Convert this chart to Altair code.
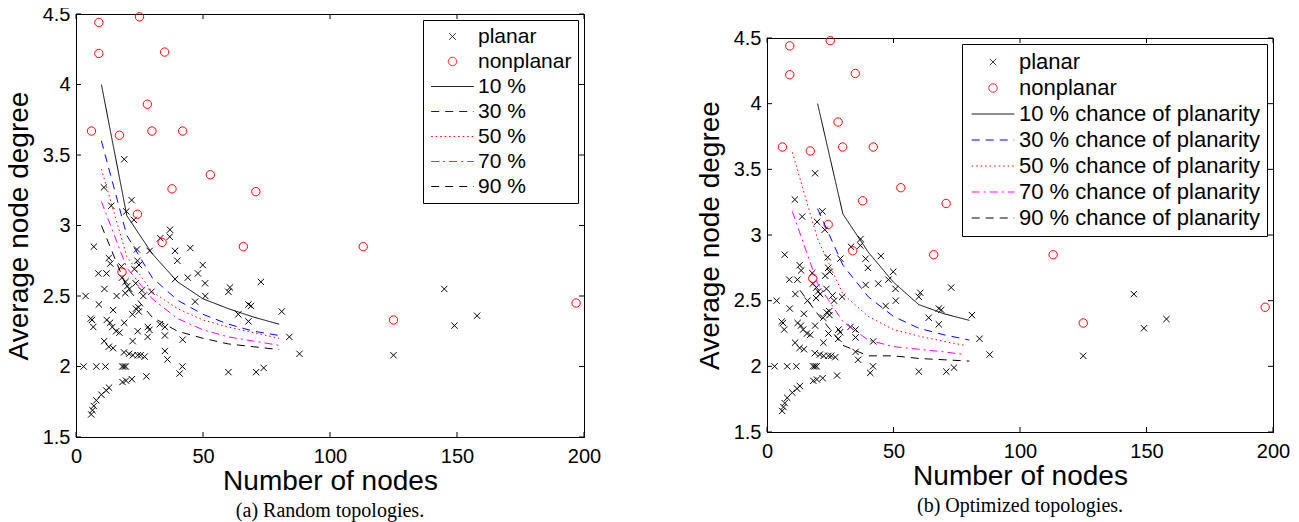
import altair as alt
import pandas as pd

# ---------------- data ----------------
planar_x = [19.0, 11.0, 21.9, 13.9, 19.8, 22.8, 37.0, 36.9, 33.2, 7.0, 24.0, 29.0, 39.0, 45.0,
            12.9, 24.2, 39.9, 13.5, 17.9, 24.8, 8.8, 12.0, 23.0, 49.9, 48.0, 44.0, 39.0, 50.8,
            11.2, 19.5, 20.2, 21.0, 23.5, 18.1, 3.8, 16.0, 19.4, 26.5, 25.9, 29.7, 50.9, 46.9,
            9.0, 14.6, 24.6, 23.6, 24.7, 22.2, 5.8, 6.3, 6.8, 12.1, 13.4, 14.3, 15.8, 17.1, 19.0,
            24.3, 28.3, 28.9, 28.2, 33.0, 35.0, 35.0, 11.1, 22.3, 42.0, 12.9, 14.6, 18.9, 20.9,
            22.4, 24.3, 25.4, 27.0, 35.0, 36.0, 3.0, 8.0, 11.6, 18.2, 18.9, 19.6, 41.9, 40.8,
            27.7, 18.3, 19.7, 22.0, 13.0, 11.9, 10.0, 8.0, 7.0, 6.0, 6.5, 72.8, 60.6, 60.0, 67.9,
            68.9, 63.9, 81.0, 67.9, 84.0, 88.0, 60.0, 70.9, 73.9, 145.0, 149.0, 157.9, 125.0]
planar_y = [3.47, 3.27, 3.18, 3.14, 3.10, 3.04, 2.97, 2.92, 2.91, 2.85, 2.83, 2.82, 2.82, 2.84,
            2.77, 2.75, 2.75, 2.73, 2.71, 2.72, 2.66, 2.66, 2.69, 2.72, 2.66, 2.63, 2.62, 2.59,
            2.55, 2.60, 2.57, 2.55, 2.59, 2.63, 2.50, 2.50, 2.52, 2.50, 2.54, 2.53, 2.50, 2.46,
            2.44, 2.40, 2.42, 2.41, 2.39, 2.37, 2.34, 2.33, 2.28, 2.33, 2.31, 2.28, 2.25, 2.24, 2.31,
            2.25, 2.28, 2.26, 2.21, 2.30, 2.28, 2.22, 2.18, 2.18, 2.19, 2.14, 2.13, 2.10, 2.09,
            2.08, 2.08, 2.08, 2.07, 2.11, 2.05, 2.00, 2.00, 2.00, 2.00, 2.00, 2.00, 2.00, 1.95,
            1.93, 1.89, 1.90, 1.91, 1.85, 1.83, 1.80, 1.76, 1.72, 1.66, 1.69, 2.60, 2.56, 2.53, 2.44,
            2.43, 2.37, 2.39, 2.32, 2.21, 2.09, 1.96, 1.96, 1.99, 2.55, 2.29, 2.36, 2.08]

nonplanar_x = [9.0, 25.0, 9.0, 34.9, 28.1, 6.1, 17.1, 29.9, 42.0, 52.9, 37.8, 70.8, 24.2,
               33.9, 65.9, 113.1, 18.1, 125.0, 196.9]
nonplanar_y = [4.44, 4.48, 4.22, 4.23, 3.86, 3.67, 3.64, 3.67, 3.67, 3.36, 3.26, 3.24, 3.08,
               2.88, 2.85, 2.85, 2.67, 2.33, 2.45]

# curves, panel (a) random topologies
rand_x = [10, 20, 30, 40, 50, 60, 70, 80]
rand_10 = [4.00, 3.07, 2.80, 2.60, 2.48, 2.41, 2.35, 2.30]
rand_30 = [3.60, 2.93, 2.63, 2.47, 2.37, 2.30, 2.25, 2.22]
rand_50 = [3.40, 2.78, 2.53, 2.41, 2.33, 2.28, 2.24, 2.20]
rand_70 = [3.17, 2.70, 2.48, 2.34, 2.26, 2.21, 2.18, 2.15]
rand_90 = [3.00, 2.56, 2.35, 2.25, 2.20, 2.16, 2.14, 2.12]

# curves, panel (b) optimized topologies
opt_10_x = [20, 30, 40, 50, 60, 70, 80]
opt_10 = [4.00, 3.16, 2.87, 2.64, 2.47, 2.40, 2.35]
opt_30_x = [20, 30, 40, 50, 60, 70, 80]
opt_30 = [3.20, 2.77, 2.53, 2.38, 2.29, 2.24, 2.20]
opt_50_x = [10, 20, 30, 40, 50, 60, 70, 78]
opt_50 = [3.63, 2.97, 2.55, 2.38, 2.28, 2.23, 2.19, 2.16]
opt_70_x = [10, 20, 30, 40, 50, 60, 70, 78]
opt_70 = [3.18, 2.63, 2.34, 2.20, 2.15, 2.13, 2.11, 2.09]
opt_90_x = [13, 20, 30, 40, 50, 60, 70, 80]
opt_90 = [2.58, 2.40, 2.16, 2.08, 2.08, 2.06, 2.05, 2.04]

levels = ["10 %", "30 %", "50 %", "70 %", "90 %"]
x_ticks = [0, 50, 100, 150, 200]
y_ticks = [1.5, 2, 2.5, 3, 3.5, 4, 4.5]

FONT = "Liberation Sans"
CROSS = "M-1,-1L1,1M-1,1L1,-1"
HLINE = "M-2.5,0L2.5,0"
COLORS = ["black", "#ff0000", "black", "#0000ff", "#ff0000", "#ff00ff", "black"]
SHAPES = [CROSS, "circle", HLINE, HLINE, HLINE, HLINE, HLINE]
SIZES = [40, 70, 290, 290, 290, 290, 290]
DASHES = [[1, 0], [1, 0], [1, 0], [8, 6], [1.5, 3], [8, 4, 2, 4], [8, 6]]

IND_SCALE = dict(x="independent", y="independent", stroke="independent", shape="independent",
                 size="independent", strokeDash="independent")
IND_LEGEND = dict(stroke="independent", shape="independent", size="independent",
                  strokeDash="independent")


def panel(curves, suffix, width, height, caption, row_pad, pad, lab_size):
    names = [lv + suffix for lv in levels]
    domain = ["planar", "nonplanar"] + names
    cscale = alt.Scale(domain=domain, range=COLORS)
    shscale = alt.Scale(domain=domain, range=SHAPES)
    szscale = alt.Scale(type="ordinal", domain=domain, range=SIZES)
    dscale = alt.Scale(domain=domain, range=DASHES)
    xs = alt.Scale(domain=[0, 200], nice=False, zero=False)
    ys = alt.Scale(domain=[1.5, 4.5], nice=False, zero=False)

    legend = alt.Legend(
        title=None, orient="top-right", offset=6, padding=pad,
        strokeColor="black", fillColor="white",
        labelFont=FONT, labelFontSize=lab_size, labelColor="black", labelLimit=600,
        labelOffset=15, symbolOffset=13, rowPadding=row_pad, symbolStrokeWidth=1,
    )

    xax = alt.Axis(values=x_ticks, ticks=False, grid=False, labelFont=FONT, labelFontSize=20,
                   labelColor="black", labelPadding=9, labelFlush=False, title="Number of nodes",
                   titleFont=FONT, titleFontSize=28, titleFontWeight="normal", titleColor="black",
                   titlePadding=1, domainColor="black")
    yax = alt.Axis(values=y_ticks, format="~g", ticks=False, grid=False, labelFont=FONT,
                   labelFontSize=20, labelColor="black", labelPadding=6, labelFlush=False,
                   title="Average node degree", titleFont=FONT, titleFontSize=28,
                   titleFontWeight="normal", titleColor="black", titlePadding=9,
                   domainColor="black")

    pts_p = pd.DataFrame({"x": planar_x, "y": planar_y, "series": "planar"})
    pts_n = pd.DataFrame({"x": nonplanar_x, "y": nonplanar_y, "series": "nonplanar"})
    rows = []
    for name, (cx, cy) in zip(names, curves):
        for i, (a, b) in enumerate(zip(cx, cy)):
            rows.append({"x": a, "y": b, "series": name, "i": i})
    lines = pd.DataFrame(rows)

    def enc_pts():
        return dict(
            stroke=alt.Stroke("series:N", scale=cscale, legend=legend),
            shape=alt.Shape("series:N", scale=shscale, legend=legend),
            size=alt.Size("series:N", scale=szscale, legend=legend),
        )

    planar = alt.Chart(pts_p).mark_point(filled=False, fill="transparent", strokeWidth=1, opacity=1).encode(
        x=alt.X("x:Q", scale=xs, axis=xax),
        y=alt.Y("y:Q", scale=ys, axis=yax),
        **enc_pts(),
    )
    nonplanar = alt.Chart(pts_n).mark_point(filled=False, fill="transparent", strokeWidth=1, opacity=1).encode(
        x=alt.X("x:Q", scale=xs), y=alt.Y("y:Q", scale=ys),
        **enc_pts(),
    )
    curve = alt.Chart(lines).mark_line(strokeWidth=1).encode(
        x=alt.X("x:Q", scale=xs), y=alt.Y("y:Q", scale=ys),
        stroke=alt.Stroke("series:N", scale=cscale, legend=legend),
        strokeDash=alt.StrokeDash("series:N", scale=dscale, legend=legend),
        order="i:Q",
    )
    tk = 5
    yt = pd.DataFrame({"v": y_ticks})
    xt = pd.DataFrame({"v": x_ticks})
    tick_l = alt.Chart(yt).mark_rule(color="black", strokeWidth=1).encode(
        y=alt.Y("v:Q", scale=ys), x=alt.value(0), x2=alt.value(tk))
    tick_r = alt.Chart(yt).mark_rule(color="black", strokeWidth=1).encode(
        y=alt.Y("v:Q", scale=ys), x=alt.value(width - tk), x2=alt.value(width))
    tick_b = alt.Chart(xt).mark_rule(color="black", strokeWidth=1).encode(
        x=alt.X("v:Q", scale=xs), y=alt.value(height - tk), y2=alt.value(height))
    tick_t = alt.Chart(xt).mark_rule(color="black", strokeWidth=1).encode(
        x=alt.X("v:Q", scale=xs), y=alt.value(0), y2=alt.value(tk))

    layers = [planar, nonplanar, curve, tick_l, tick_r, tick_b, tick_t]
    return alt.layer(*layers).properties(
        width=width, height=height,
        title=alt.Title(caption, orient="bottom", font="Liberation Serif", fontSize=20,
                        fontWeight="normal", color="black", offset=6, anchor="middle"),
    )


left = panel(list(zip([rand_x] * 5, [rand_10, rand_30, rand_50, rand_70, rand_90])), "",
             508, 423, "(a) Random topologies.", 3, 6, 21)
right = panel([(opt_10_x, opt_10), (opt_30_x, opt_30), (opt_50_x, opt_50),
               (opt_70_x, opt_70), (opt_90_x, opt_90)], " chance of planarity",
              506, 394, "(b) Optimized topologies.", 4, 7, 22)

spacer = alt.Chart(pd.DataFrame({"a": [0]})).mark_point(opacity=0).encode(
    x=alt.value(0), y=alt.value(0)
).properties(width=506, height=1, view=alt.ViewBackground(stroke=None))

right_col = alt.vconcat(spacer, right, spacing=10).resolve_scale(**IND_SCALE).resolve_legend(**IND_LEGEND)

chart = alt.hconcat(left, right_col, spacing=93).resolve_scale(**IND_SCALE).resolve_legend(
    **IND_LEGEND
).properties(
    padding={"left": -4, "top": -5, "right": 0, "bottom": 0},
    background="white",
).configure_view(stroke="black", strokeWidth=1)

chart.save("out.html", embed_options={"renderer": "svg", "actions": False})
